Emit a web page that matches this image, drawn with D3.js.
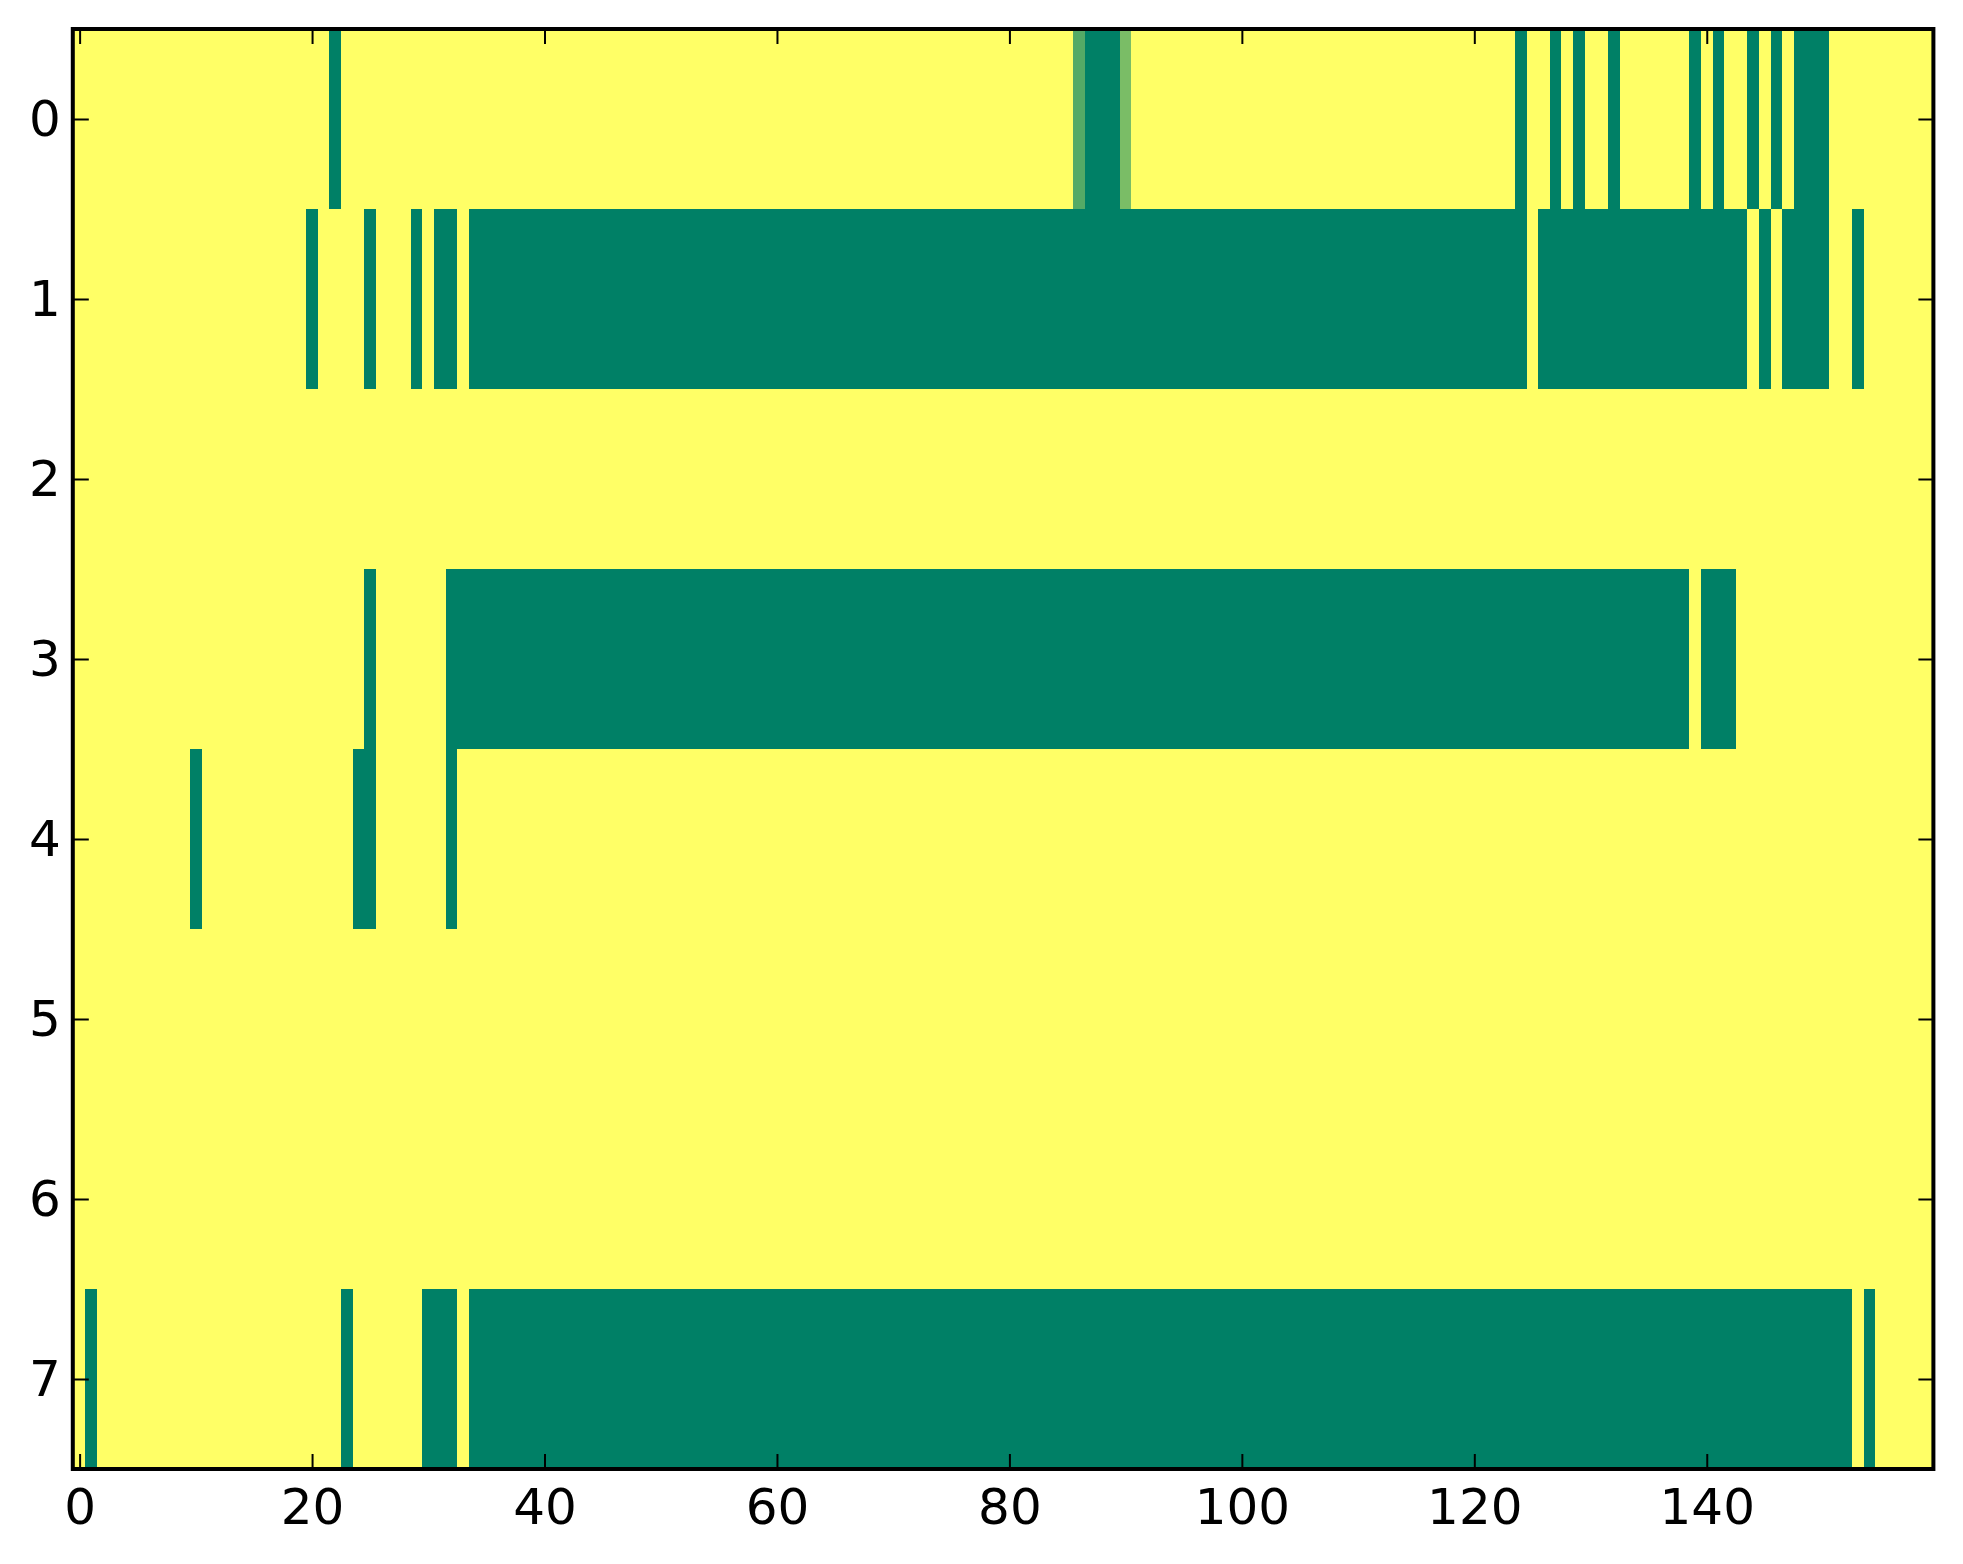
<!DOCTYPE html>
<html>
<head>
<meta charset="utf-8">
<script src="https://cdn.jsdelivr.net/npm/d3@7"></script>
<style>
  html, body { margin: 0; padding: 0; background: #ffffff; }
  svg { display: block; }
  text { font-family: "DejaVu Sans", sans-serif; }
</style>
</head>
<body>
<svg id="chart" width="1963" height="1564"></svg>
<script>
// ---- data (value per column, 160 columns, rows 0..7) ----
const rowLabels = [0, 1, 2, 3, 4, 5, 6, 7];
const xTickValues = [0, 20, 40, 60, 80, 100, 120, 140];

const row0 = [
  1,1,1,1,1,1,1,1,1,1, 1,1,1,1,1,1,1,1,1,1, 1,1,0,1,1,1,1,1,1,1, 1,1,1,1,1,1,1,1,1,1,
  1,1,1,1,1,1,1,1,1,1, 1,1,1,1,1,1,1,1,1,1, 1,1,1,1,1,1,1,1,1,1, 1,1,1,1,1,1,1,1,1,1,
  1,1,1,1,1,1,0.33,0,0,0, 0.48,1,1,1,1,1,1,1,1,1, 1,1,1,1,1,1,1,1,1,1, 1,1,1,1,1,1,1,1,1,1,
  1,1,1,1,0,1,1,0,1,0, 1,1,0,1,1,1,1,1,1,0, 1,0,1,1,0,1,0,1,0,0, 0,1,1,1,1,1,1,1,1,1
];
const row1 = [
  1,1,1,1,1,1,1,1,1,1, 1,1,1,1,1,1,1,1,1,1, 0,1,1,1,1,0,1,1,1,0, 1,0,0,1,0,0,0,0,0,0,
  0,0,0,0,0,0,0,0,0,0, 0,0,0,0,0,0,0,0,0,0, 0,0,0,0,0,0,0,0,0,0, 0,0,0,0,0,0,0,0,0,0,
  0,0,0,0,0,0,0,0,0,0, 0,0,0,0,0,0,0,0,0,0, 0,0,0,0,0,0,0,0,0,0, 0,0,0,0,0,0,0,0,0,0,
  0,0,0,0,0,1,0,0,0,0, 0,0,0,0,0,0,0,0,0,0, 0,0,0,0,1,0,1,0,0,0, 0,1,1,0,1,1,1,1,1,1
];
const row2 = [
  1,1,1,1,1,1,1,1,1,1, 1,1,1,1,1,1,1,1,1,1, 1,1,1,1,1,1,1,1,1,1, 1,1,1,1,1,1,1,1,1,1,
  1,1,1,1,1,1,1,1,1,1, 1,1,1,1,1,1,1,1,1,1, 1,1,1,1,1,1,1,1,1,1, 1,1,1,1,1,1,1,1,1,1,
  1,1,1,1,1,1,1,1,1,1, 1,1,1,1,1,1,1,1,1,1, 1,1,1,1,1,1,1,1,1,1, 1,1,1,1,1,1,1,1,1,1,
  1,1,1,1,1,1,1,1,1,1, 1,1,1,1,1,1,1,1,1,1, 1,1,1,1,1,1,1,1,1,1, 1,1,1,1,1,1,1,1,1,1
];
const row3 = [
  1,1,1,1,1,1,1,1,1,1, 1,1,1,1,1,1,1,1,1,1, 1,1,1,1,1,0,1,1,1,1, 1,1,0,0,0,0,0,0,0,0,
  0,0,0,0,0,0,0,0,0,0, 0,0,0,0,0,0,0,0,0,0, 0,0,0,0,0,0,0,0,0,0, 0,0,0,0,0,0,0,0,0,0,
  0,0,0,0,0,0,0,0,0,0, 0,0,0,0,0,0,0,0,0,0, 0,0,0,0,0,0,0,0,0,0, 0,0,0,0,0,0,0,0,0,0,
  0,0,0,0,0,0,0,0,0,0, 0,0,0,0,0,0,0,0,0,1, 0,0,0,1,1,1,1,1,1,1, 1,1,1,1,1,1,1,1,1,1
];
const row4 = [
  1,1,1,1,1,1,1,1,1,1, 0,1,1,1,1,1,1,1,1,1, 1,1,1,1,0,0,1,1,1,1, 1,1,0,1,1,1,1,1,1,1,
  1,1,1,1,1,1,1,1,1,1, 1,1,1,1,1,1,1,1,1,1, 1,1,1,1,1,1,1,1,1,1, 1,1,1,1,1,1,1,1,1,1,
  1,1,1,1,1,1,1,1,1,1, 1,1,1,1,1,1,1,1,1,1, 1,1,1,1,1,1,1,1,1,1, 1,1,1,1,1,1,1,1,1,1,
  1,1,1,1,1,1,1,1,1,1, 1,1,1,1,1,1,1,1,1,1, 1,1,1,1,1,1,1,1,1,1, 1,1,1,1,1,1,1,1,1,1
];
const row5 = row2.slice();
const row6 = row2.slice();
const row7 = [
  1,0,1,1,1,1,1,1,1,1, 1,1,1,1,1,1,1,1,1,1, 1,1,1,0,1,1,1,1,1,1, 0,0,0,1,0,0,0,0,0,0,
  0,0,0,0,0,0,0,0,0,0, 0,0,0,0,0,0,0,0,0,0, 0,0,0,0,0,0,0,0,0,0, 0,0,0,0,0,0,0,0,0,0,
  0,0,0,0,0,0,0,0,0,0, 0,0,0,0,0,0,0,0,0,0, 0,0,0,0,0,0,0,0,0,0, 0,0,0,0,0,0,0,0,0,0,
  0,0,0,0,0,0,0,0,0,0, 0,0,0,0,0,0,0,0,0,0, 0,0,0,0,0,0,0,0,0,0, 0,0,0,1,0,1,1,1,1,1
];
const rows = [row0, row1, row2, row3, row4, row5, row6, row7];

// ---- layout ----
const svg = d3.select("#chart");
const plotLeft = 73.8, plotRight = 1933.4, plotTop = 29, plotBottom = 1469;
const nCols = row0.length;

const x = d3.scaleLinear().domain([-0.5, nCols - 0.5]).range([plotLeft, plotRight]);
const y = d3.scaleLinear().domain([-0.5, rows.length - 0.5]).range([plotTop, plotBottom]);

// matplotlib "summer" colormap
const color = d3.scaleLinear().domain([0, 1])
  .range(["rgb(0,128,102)", "rgb(255,255,102)"])
  .interpolate(d3.interpolateRgb);

const cells = [];
rows.forEach((r, ri) => r.forEach((v, ci) => cells.push({ r: ri, c: ci, v })));

svg.append("g")
  .selectAll("rect")
  .data(cells)
  .join("rect")
  .attr("x", d => x(d.c - 0.5))
  .attr("y", d => y(d.r - 0.5))
  .attr("width", d => x(d.c + 0.5) - x(d.c - 0.5) + 0.4)
  .attr("height", d => y(d.r + 0.5) - y(d.r - 0.5) + 0.4)
  .attr("fill", d => color(d.v))
  .attr("shape-rendering", "crispEdges");

// ---- axes ----
const tickLen = 15;
const fontSize = 50;

const gB = svg.append("g").attr("transform", `translate(0,${plotBottom})`)
  .call(d3.axisBottom(x).tickValues(xTickValues).tickSizeInner(-tickLen).tickSizeOuter(0).tickPadding(19));
const gT = svg.append("g").attr("transform", `translate(0,${plotTop})`)
  .call(d3.axisTop(x).tickValues(xTickValues).tickSizeInner(-tickLen).tickSizeOuter(0).tickFormat(""));
const gL = svg.append("g").attr("transform", `translate(${plotLeft},0)`)
  .call(d3.axisLeft(y).tickValues(rowLabels).tickSizeInner(-tickLen).tickSizeOuter(0).tickPadding(13));
const gR = svg.append("g").attr("transform", `translate(${plotRight},0)`)
  .call(d3.axisRight(y).tickValues(rowLabels).tickSizeInner(-tickLen).tickSizeOuter(0).tickFormat(""));

[gB, gT, gL, gR].forEach(g => {
  g.select(".domain").remove();
  g.selectAll(".tick line").attr("stroke", "#000").attr("stroke-width", 2);
  g.selectAll(".tick text")
    .attr("fill", "#000")
    .style("font-family", "'DejaVu Sans', sans-serif")
    .style("font-size", fontSize + "px");
});

// spines
svg.append("rect")
  .attr("x", plotLeft - 1).attr("y", plotTop)
  .attr("width", plotRight - plotLeft + 1).attr("height", plotBottom - plotTop)
  .attr("fill", "none").attr("stroke", "#000").attr("stroke-width", 4);
</script>
</body>
</html>
